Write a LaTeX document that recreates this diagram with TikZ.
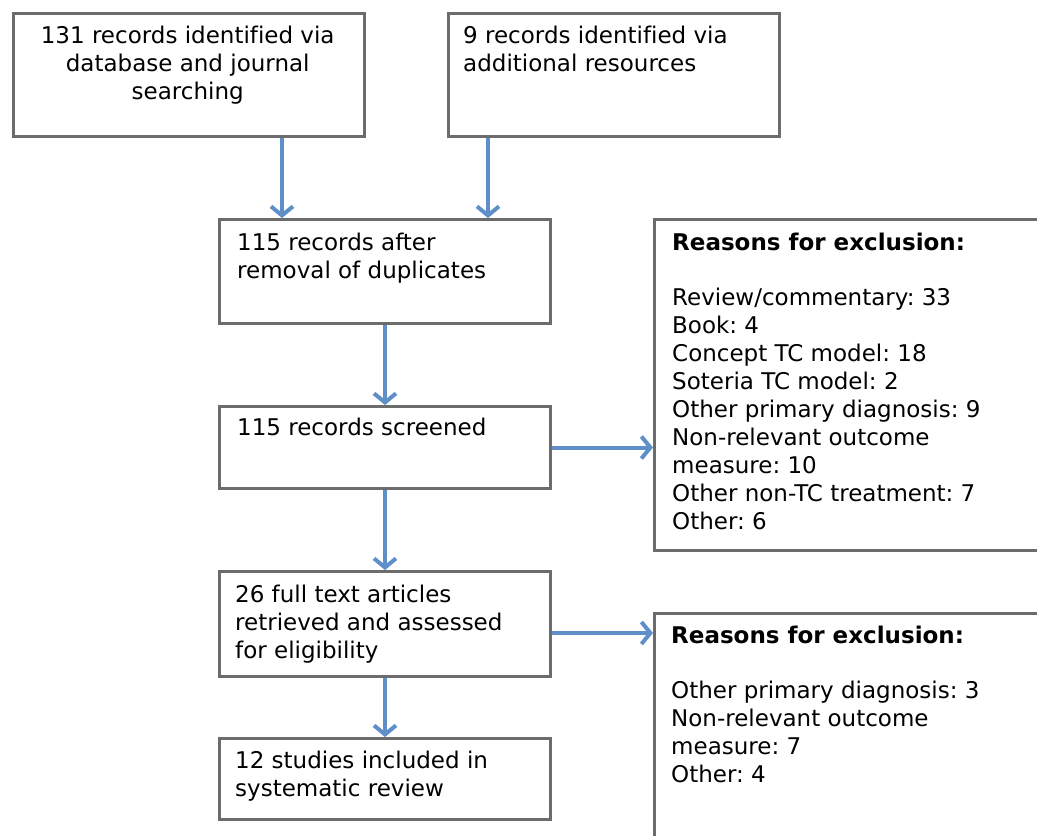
\documentclass[tikz,border=0pt]{standalone}
\usepackage{fontspec}
\setmainfont{DejaVu Sans}[Ligatures={NoCommon}]
\usetikzlibrary{arrows.meta}
\definecolor{boxgray}{RGB}{108,108,108}
\definecolor{arrblue}{RGB}{95,143,200}
\frenchspacing
\begin{document}
\begin{tikzpicture}[x=1pt,y=-1pt,
  box/.style={draw=boxgray, line width=3pt, anchor=north west, inner sep=0pt, fill=white},
  txt/.style={anchor=base west, inner sep=0pt, font=\fontsize{23}{28}\selectfont},
  arr/.style={draw=arrblue, line width=4pt, -{Straight Barb[length=9pt,width=22pt]}}]
\useasboundingbox (0,0) rectangle (1037,836);
\clip (0,0) rectangle (1037,836);
\fill[white] (0,0) rectangle (1037,836);
% boxes
\node[box, minimum width=351pt, minimum height=123pt] (A) at (12,12) {};
\node[box, minimum width=331pt, minimum height=123pt] (B) at (447,12) {};
\node[box, minimum width=331pt, minimum height=104pt] (C) at (218,218) {};
\node[box, minimum width=331pt, minimum height=82pt] (D) at (218,405) {};
\node[box, minimum width=420pt, minimum height=331pt] (E) at (653,218) {};
\node[box, minimum width=331pt, minimum height=105pt] (F) at (218,570) {};
\node[box, minimum width=420pt, minimum height=300pt] (G) at (653,612) {};
\node[box, minimum width=331pt, minimum height=81pt] (H) at (218,737) {};
% texts
\node[txt] (At) at (12,43) {\parbox[t]{351pt}{\centering 131 records identified via\\database and journal\\searching}};
\node[txt] (Bt) at (463,43) {\parbox[t]{310pt}{\raggedright 9 records identified via\\additional resources}};
\node[txt] (Ct) at (237,250) {\parbox[t]{310pt}{\raggedright 115 records after\\removal of duplicates}};
\node[txt] (Dt) at (237,435) {\parbox[t]{310pt}{\raggedright 115 records screened}};
\node[txt] (Et) at (672,250) {\parbox[t]{380pt}{\raggedright \textbf{Reasons for exclusion:}\\[27pt]Review/commentary: 33\\Book: 4\\Concept TC model: 18\\Soteria TC model: 2\\Other primary diagnosis: 9\\Non-relevant outcome\\measure: 10\\Other non-TC treatment: 7\\Other: 6}};
\node[txt] (Ft) at (235,602) {\parbox[t]{310pt}{\raggedright 26 full text articles\\retrieved and assessed\\for eligibility}};
\node[txt] (Gt) at (671,643) {\parbox[t]{380pt}{\raggedright \textbf{Reasons for exclusion:}\\[27pt]Other primary diagnosis: 3\\Non-relevant outcome\\measure: 7\\Other: 4}};
\node[txt] (Ht) at (235,768) {\parbox[t]{310pt}{\raggedright 12 studies included in\\systematic review}};
% connectors
\coordinate (xa) at (282,0);
\coordinate (xb) at (488,0);
\coordinate (yfg) at (0,633);
\draw[arr] (A.south -| xa) -- (C.north -| xa);
\draw[arr] (B.south -| xb) -- (C.north -| xb);
\draw[arr] (C.south) -- (D.north);
\draw[arr] (D.east) -- (E.west |- D.east);
\draw[arr] (D.south) -- (F.north);
\draw[arr] (F.east |- yfg) -- (G.west |- yfg);
\draw[arr] (F.south) -- (H.north);
\end{tikzpicture}
\end{document}
